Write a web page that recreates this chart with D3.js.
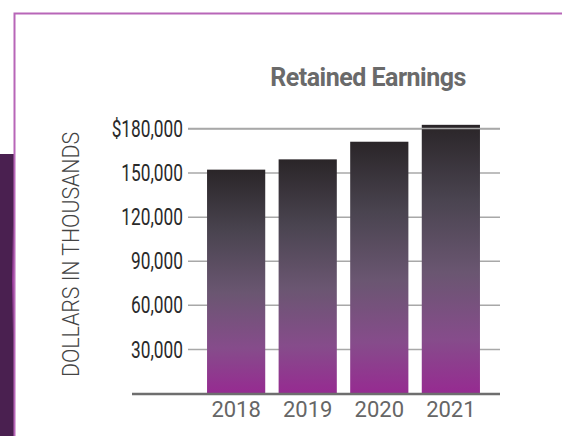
<!DOCTYPE html>
<html>
<head>
<meta charset="utf-8">
<script src="https://cdn.jsdelivr.net/npm/d3@7"></script>
<style>
  body { margin: 0; background: #fff; }
  svg { display: block; }
</style>
</head>
<body>
<div id="chart"></div>
<script>
        var width = 562;
        var height = 436;

        // data (thousands of dollars)
        var years = ["2018", "2019", "2020", "2021"];
        var earnings = [152000, 159000, 171000, 182500];
        var tickValues = [30000, 60000, 90000, 120000, 150000, 180000];
        var chartTitle = "Retained Earnings";
        var yTitle = "DOLLARS IN THOUSANDS";

        var svg = d3.select("#chart")
                    .append("svg")
                    .attr("width", width)
                    .attr("height", height);

        var defs = svg.append("defs");

        var grad = defs.append("linearGradient")
            .attr("id", "barGrad")
            .attr("x1", 0).attr("y1", 0)
            .attr("x2", 0).attr("y2", 1);
        [["0%", "#2a2528"], ["28%", "#4a4450"], ["55%", "#6a5671"], ["80%", "#864c8b"], ["100%", "#962b91"]]
            .forEach(function(s){
                grad.append("stop").attr("offset", s[0]).attr("stop-color", s[1]);
            });

        var glow = defs.append("linearGradient")
            .attr("id", "glow")
            .attr("x1", 0).attr("y1", 0)
            .attr("x2", 0).attr("y2", 1);
        glow.append("stop").attr("offset", "0%").attr("stop-color", "#4a2050");
        glow.append("stop").attr("offset", "50%").attr("stop-color", "#b040b0");
        glow.append("stop").attr("offset", "100%").attr("stop-color", "#4a2050");

        // page frame
        svg.append("rect")
            .attr("x", 0).attr("y", 154)
            .attr("width", 14).attr("height", height - 154)
            .attr("fill", "#4a2050");
        svg.append("rect")
            .attr("x", 12).attr("y", 225)
            .attr("width", 3).attr("height", 110)
            .attr("fill", "url(#glow)")
            .attr("opacity", 0.7);
        svg.append("path")
            .attr("d", "M14.5,436 L14.5,13.5 L562,13.5")
            .attr("fill", "none")
            .attr("stroke", "#b866b8")
            .attr("stroke-width", 2);

        var x = d3.scaleBand()
            .domain(years)
            .range([187, 500])
            .paddingInner(0.187)
            .paddingOuter(0.28);

        var y = d3.scaleLinear()
            .domain([0, 180000])
            .range([393, 128.5]);

        // gridlines
        var grid = svg.append("g")
            .attr("transform", "translate(188,0)")
            .call(d3.axisLeft(y)
                .tickValues(tickValues)
                .tickSize(-312)
                .tickFormat(""));
        grid.select(".domain").remove();
        grid.selectAll(".tick line")
            .attr("stroke", "#a8a8a8")
            .attr("stroke-width", 1.5);

        // tick labels, squeezed to look like a condensed face
        svg.append("g").selectAll("text")
            .data(tickValues)
            .enter()
            .append("text")
            .attr("transform", function(d){ return "translate(183," + y(d) + ") scale(0.72,1)"; })
            .attr("dy", "0.36em")
            .attr("text-anchor", "end")
            .attr("font-family", "Roboto, sans-serif")
            .attr("font-weight", 400)
            .attr("font-size", 24)
            .attr("fill", "#2a2a2a")
            .text(function(d){
                var s = d3.format(",")(d);
                return d === 180000 ? "$" + s : s;
            });

        // bars
        svg.append("g").selectAll("rect")
            .data(earnings)
            .enter()
            .append("rect")
            .attr("x", function(d, i){ return x(years[i]); })
            .attr("y", function(d){ return y(d); })
            .attr("width", x.bandwidth())
            .attr("height", function(d){ return y(0) - y(d); })
            .attr("fill", "url(#barGrad)");

        // top line runs over the tallest bar
        svg.append("line")
            .attr("x1", 188).attr("x2", 500)
            .attr("y1", y(180000)).attr("y2", y(180000))
            .attr("stroke", "#a8a8a8")
            .attr("stroke-width", 1.5);

        // baseline
        svg.append("line")
            .attr("x1", 132).attr("x2", 500)
            .attr("y1", y(0) + 1).attr("y2", y(0) + 1)
            .attr("stroke", "#6e6e6e")
            .attr("stroke-width", 2.5);

        // year labels
        svg.append("g").selectAll("text")
            .data(years)
            .enter()
            .append("text")
            .attr("x", function(d){ return x(d) + x.bandwidth() / 2; })
            .attr("y", 417)
            .attr("text-anchor", "middle")
            .attr("font-family", "Roboto, sans-serif")
            .attr("font-size", 22)
            .attr("fill", "#666")
            .text(function(d){ return d; });

        // title
        svg.append("text")
            .attr("x", 368)
            .attr("y", 86)
            .attr("text-anchor", "middle")
            .attr("font-family", "Roboto, sans-serif")
            .attr("font-weight", "bold")
            .attr("font-size", 25)
            .attr("letter-spacing", -0.5)
            .attr("fill", "#6a6a6a")
            .text(chartTitle);

        // y axis title
        svg.append("text")
            .attr("transform", "translate(79,254.5) rotate(-90)")
            .attr("text-anchor", "middle")
            .attr("font-family", "Roboto, sans-serif")
            .attr("font-weight", 300)
            .attr("font-size", 23)
            .attr("textLength", 245)
            .attr("lengthAdjust", "spacingAndGlyphs")
            .attr("fill", "#444")
            .text(yTitle);
</script>
</body>
</html>
